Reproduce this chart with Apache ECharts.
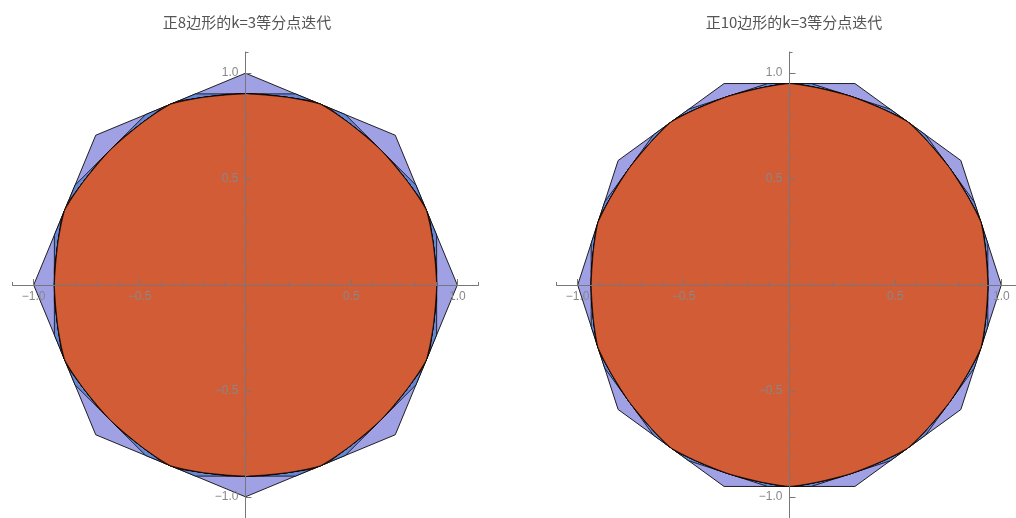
<!DOCTYPE html>
<html><head><meta charset="utf-8">
<script src="https://cdn.jsdelivr.net/npm/echarts@6/dist/echarts.min.js"></script>
<style>html,body{margin:0;padding:0;background:#fff}#c{width:1016px;height:518px}</style>
</head><body><div id="c"></div>
<script>
// Titles
const titles = ['正8边形的k=3等分点迭代', '正10边形的k=3等分点迭代'];
// Regular octagon vertices (x, y)
const octagonX = [1, 0.7071, 0, -0.7071, -1, -0.7071, 0, 0.7071];
const octagonY = [0, 0.7071, 1, 0.7071, 0, -0.7071, -1, -0.7071];
// Regular decagon vertices (x, y)
const decagonX = [1, 0.8090, 0.3090, -0.3090, -0.8090, -1, -0.8090, -0.3090, 0.3090, 0.8090];
const decagonY = [0, 0.5878, 0.9511, 0.9511, 0.5878, 0, -0.5878, -0.9511, -0.9511, -0.5878];
// Subdivision parameter (k equal parts) and number of iterations drawn
const kParts = 3;
const iterations = 6;
// Axis ticks
const axisRange = [-1.1, 1.1];
const majorTicks = [-1, -0.5, 0.5, 1];
const minorTicks = [-1.1, -1.0, -0.9, -0.8, -0.7, -0.6, -0.5, -0.4, -0.3, -0.2, -0.1, 0.1, 0.2, 0.3, 0.4, 0.5, 0.6, 0.7, 0.8, 0.9, 1.0, 1.1];

// k-equal-division point iteration (keeps the 1/k and (k-1)/k points of each edge)
function subdivide(pts) {
  const out = [];
  for (let i = 0; i < pts.length; i++) {
    const a = pts[i], b = pts[(i + 1) % pts.length];
    out.push([a[0] + (b[0] - a[0]) / kParts, a[1] + (b[1] - a[1]) / kParts]);
    out.push([a[0] + (b[0] - a[0]) * (kParts - 1) / kParts, a[1] + (b[1] - a[1]) * (kParts - 1) / kParts]);
  }
  return out;
}
function levels(xs, ys) {
  let p = xs.map((x, i) => [x, ys[i]]);
  const res = [p];
  for (let i = 0; i < iterations; i++) { p = subdivide(p); res.push(p); }
  return res;
}

const GRID_SIZE = 466;
const HALF = GRID_SIZE / 2;
const fills = ['#a0a0e4', '#6688d2', '#d15c35', '#d15c35', '#d15c35', '#d15c35', '#d15c35'];
function polySeries(pts, g, level) {
  return {
    type: 'custom', coordinateSystem: 'cartesian2d', xAxisIndex: g * 2, yAxisIndex: g * 2,
    data: pts, silent: true, z: 2 + level, animation: false,
    encode: { x: 0, y: 1 },
    renderItem: function (params, api) {
      if (params.dataIndex !== 0) return;
      const points = pts.map(p => api.coord(p));
      return {
        type: 'polygon', shape: { points: points },
        style: { fill: fills[level], stroke: 'rgba(0,0,0,0.85)', lineWidth: level === 0 ? 1 : 0.9 }
      };
    }
  };
}
const fmt = v => (v < 0 ? '\u2212' : '') + Math.abs(v).toFixed(1);
const axisColor = '#777777';
const labelFont = { color: '#888888', fontSize: 12, fontFamily: 'Arial, Liberation Sans, sans-serif' };
// axes placed through the centre of each square grid (range is symmetric about 0)
function axesPair(g, pos) {
  return [{
    gridIndex: g, type: 'value', min: axisRange[0], max: axisRange[1], position: pos, offset: -HALF,
    splitLine: { show: false },
    axisLine: { onZero: false, lineStyle: { color: axisColor, width: 1 } },
    axisTick: { inside: true, length: 3, customValues: minorTicks, lineStyle: { color: axisColor } },
    axisLabel: Object.assign({ customValues: majorTicks, formatter: fmt, margin: pos === 'bottom' ? 6 : 7 }, labelFont),
    z: 20
  }, {
    gridIndex: g, type: 'value', min: axisRange[0], max: axisRange[1], position: pos, offset: -HALF,
    splitLine: { show: false },
    axisLine: { show: false, onZero: false },
    axisTick: { inside: true, length: 6, customValues: majorTicks, lineStyle: { color: axisColor } },
    axisLabel: { show: false },
    z: 20
  }];
}

const lv8 = levels(octagonX, octagonY);
const lv10 = levels(decagonX, decagonY);
const series = [];
lv8.forEach((p, i) => series.push(polySeries(p, 0, i)));
lv10.forEach((p, i) => series.push(polySeries(p, 1, i)));

const chart = echarts.init(document.getElementById('c'), null, { renderer: 'canvas' });
chart.setOption({
  animation: false,
  backgroundColor: '#ffffff',
  title: [
    { text: titles[0], left: 242, top: 10, textAlign: 'center', textStyle: { fontSize: 15, fontWeight: 'normal', color: '#555', fontFamily: 'Noto Sans CJK SC' } },
    { text: titles[1], left: 789, top: 10, textAlign: 'center', textStyle: { fontSize: 15, fontWeight: 'normal', color: '#555', fontFamily: 'Noto Sans CJK SC' } }
  ],
  grid: [
    { left: 12.5, top: 52, width: GRID_SIZE, height: GRID_SIZE, containLabel: false, outerBoundsMode: 'none' },
    { left: 556.5, top: 52, width: GRID_SIZE, height: GRID_SIZE, containLabel: false, outerBoundsMode: 'none' }
  ],
  xAxis: [...axesPair(0, 'bottom'), ...axesPair(1, 'bottom')],
  yAxis: [...axesPair(0, 'left'), ...axesPair(1, 'left')],
  series: series
});
</script>
</body></html>
